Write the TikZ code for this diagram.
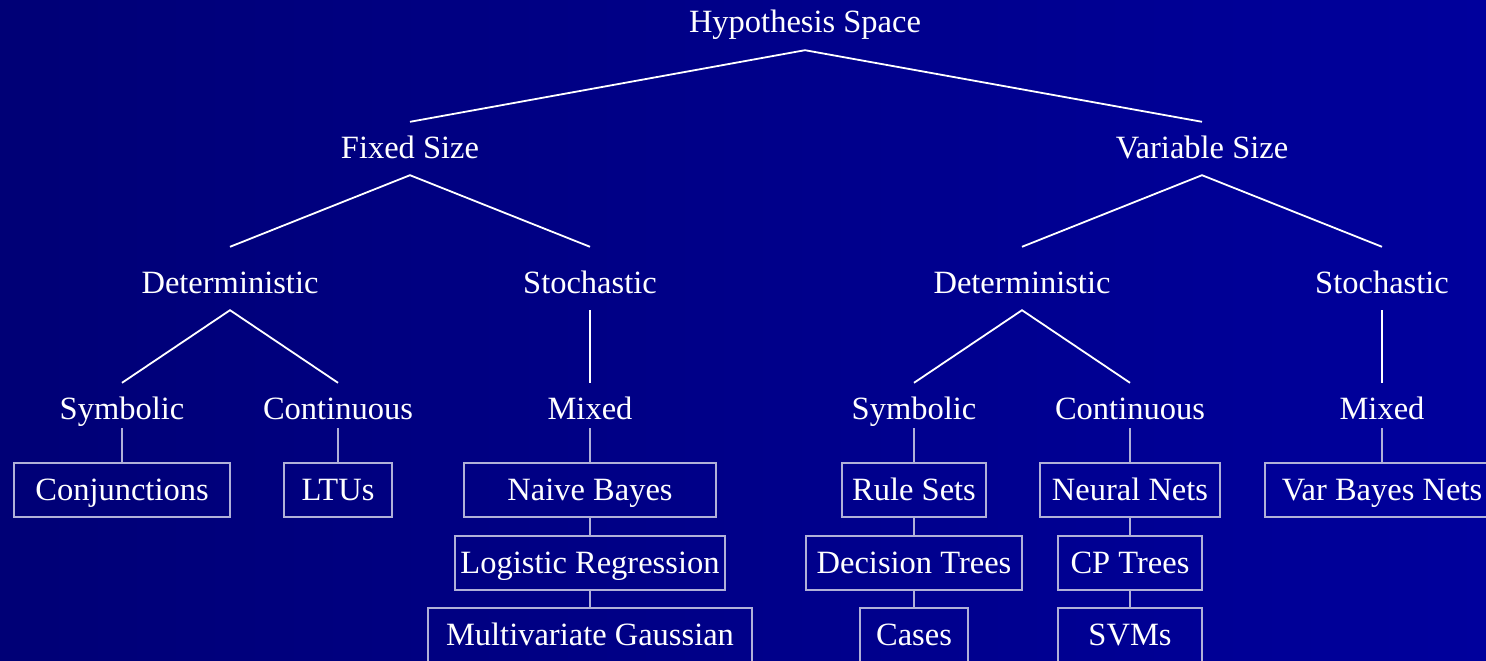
\documentclass[tikz,border=0pt]{standalone}
\usepackage{fontspec}
\setmainfont{Liberation Serif}
\usepackage{tikz}

\definecolor{bgleft}{RGB}{0,0,118}
\definecolor{bgright}{RGB}{0,0,156}
\definecolor{boxline}{RGB}{176,176,216}

\begin{document}
\begin{tikzpicture}[x=1pt,y=-1pt,
        every node/.style={text=white,font=\fontsize{32.5}{39}\selectfont},
        lbl/.style={anchor=base,inner xsep=0pt,inner ysep=17pt,text height=19pt,text depth=0pt},
        tall/.style={lbl,text height=29pt},
        tree/.style={draw=white,line width=1.8pt},
        stem/.style={draw=boxline,line width=1.1pt},
        box/.style={draw=boxline,line width=1.1pt,minimum height=54pt,inner sep=0pt,text height=21pt,text depth=0pt}]

        \clip (0,0) rectangle (1486,661);
        \shade[left color=bgleft,right color=bgright] (0,0) rectangle (1486,661);

        % tree of labels
        \node[lbl] (hyp) at (805,33) {Hypothesis Space};
        \node[lbl] (fix) at (410,158) {Fixed Size};
        \node[lbl] (var) at (1202,158) {Variable Size};
        \node[tall] (fdet) at (230,293) {Deterministic};
        \node[tall] (fsto) at (590,293) {Stochastic};
        \node[tall] (vdet) at (1022,293) {Deterministic};
        \node[tall] (vsto) at (1382,293) {Stochastic};
        \node[lbl] (fsym) at (122,419) {Symbolic};
        \node[lbl] (fcon) at (338,419) {Continuous};
        \node[lbl] (fmix) at (590,419) {Mixed};
        \node[lbl] (vsym) at (914,419) {Symbolic};
        \node[lbl] (vcon) at (1130,419) {Continuous};
        \node[lbl] (vmix) at (1382,419) {Mixed};

        \draw[tree] (fix.north) -- (hyp.south) -- (var.north);
        \draw[tree] (fdet.north) -- (fix.south) -- (fsto.north);
        \draw[tree] (vdet.north) -- (var.south) -- (vsto.north);
        \draw[tree] (fsym.north) -- (fdet.south) -- (fcon.north);
        \draw[tree] (vsym.north) -- (vdet.south) -- (vcon.north);
        \draw[tree] (fsto.south) -- (fmix.north);
        \draw[tree] (vsto.south) -- (vmix.north);

        % boxes
        \node[box,minimum width=216pt] (conj) at (122,490) {Conjunctions};
        \node[box,minimum width=108pt] (ltu) at (338,490) {LTUs};
        \node[box,minimum width=252pt] (nb) at (590,490) {Naive Bayes};
        \node[box,minimum width=270pt] (lr) at (590,563) {Logistic Regression};
        \node[box,minimum width=324pt] (mvg) at (590,635) {Multivariate Gaussian};
        \node[box,minimum width=144pt] (rule) at (914,490) {Rule Sets};
        \node[box,minimum width=216pt] (dt) at (914,563) {Decision Trees};
        \node[box,minimum width=108pt] (case) at (914,635) {Cases};
        \node[box,minimum width=180pt] (nn) at (1130,490) {Neural Nets};
        \node[box,minimum width=144pt] (cpt) at (1130,563) {CP Trees};
        \node[box,minimum width=144pt] (svm) at (1130,635) {SVMs};
        \node[box,minimum width=234pt] (vbn) at (1382,490) {Var Bayes Nets};

        \foreach \a/\b in {fsym/conj,fcon/ltu,fmix/nb,vsym/rule,vcon/nn,vmix/vbn}
            \draw[stem] ([yshift=-9pt]\a.base) -- (\b.north);
        \foreach \a/\b in {nb/lr,lr/mvg,rule/dt,dt/case,nn/cpt,cpt/svm}
            \draw[stem] (\a.south) -- (\b.north);
\end{tikzpicture}
\end{document}
